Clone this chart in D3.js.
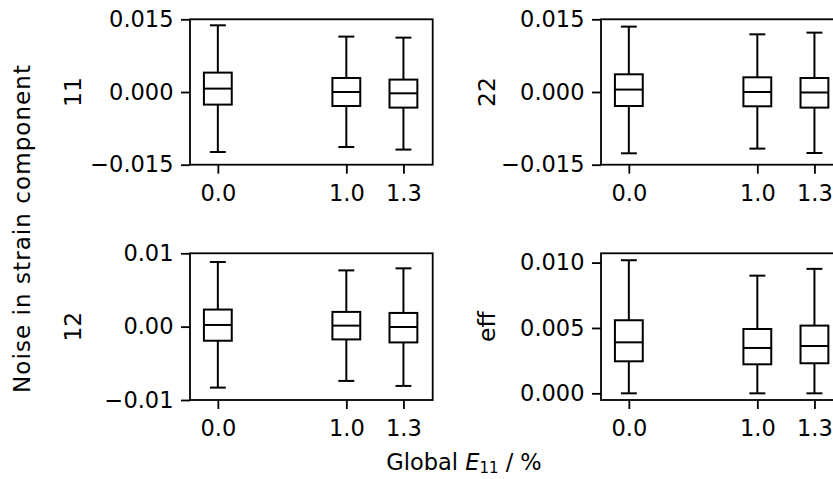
<!DOCTYPE html>
<html>
<head>
<meta charset="utf-8">
<script src="https://cdn.jsdelivr.net/npm/d3@7"></script>
<style>
  body{margin:0;background:#fff;}
  svg{display:block;font-family:"DejaVu Sans",sans-serif;}
</style>
</head>
<body>
<div id="chart"></div>
<script>
// x positions of the three load steps and their tick labels
var positions = [0, 0.9, 1.3];
var tickLabels = ['0.0', '1.0', '1.3'];

// box stats per load step: [whisker low, q1, median, q3, whisker high]
var noise11 = [
    [-0.01238, -0.0026, 0.0007, 0.0040, 0.01376],
    [-0.01135, -0.00289, 0.0, 0.00289, 0.01143],
    [-0.01188, -0.00322, -0.00027, 0.00256, 0.01122]
];
var noise22 = [
    [-0.01265, -0.00289, 0.0005, 0.00365, 0.01349],
    [-0.01168, -0.00295, 0.0, 0.00303, 0.0119],
    [-0.01259, -0.00322, -0.0001, 0.00289, 0.01225]
];
var noise12 = [
    [-0.00831, -0.00192, 0.00023, 0.00233, 0.00881],
    [-0.0074, -0.00174, 0.00014, 0.00201, 0.00767],
    [-0.00808, -0.00215, -0.00005, 0.00187, 0.00795]
];
var noiseEff = [
    [0, 0.00245, 0.0039, 0.00559, 0.01018],
    [0, 0.00222, 0.00347, 0.00492, 0.0090],
    [0, 0.0023, 0.00362, 0.00518, 0.00952]
];

// y ticks per panel
var ticks11 = [-0.015, 0, 0.015];
var ticks22 = [-0.015, 0, 0.015];
var ticks12 = [-0.01, 0, 0.01];
var ticksEff = [0, 0.005, 0.01];

var width = 833, height = 479;
var fontsize = 22.5;
var panelW = 242.7;

var panels = [
    {name:'11', data:noise11, ticks:ticks11, fmt:'.3f', ydom:[-0.015, 0.015], x:190, y:19.3, h:145.4},
    {name:'22', data:noise22, ticks:ticks22, fmt:'.3f', ydom:[-0.015, 0.015], x:601, y:19.3, h:145.4},
    {name:'12', data:noise12, ticks:ticks12, fmt:'.2f', ydom:[-0.01, 0.01], x:190, y:253.3, h:146.7},
    {name:'eff', data:noiseEff, ticks:ticksEff, fmt:'.3f', ydom:[-0.00051, 0.01071], x:601, y:253.3, h:146.7}
];

var svg = d3.select('#chart').append('svg')
    .attr('width', width)
    .attr('height', height);

var boxW = 0.195, capW = 0.0975;

panels.forEach(function(p){
    var x = d3.scaleLinear().domain([-0.195, 1.505]).range([0, panelW]);
    var y = d3.scaleLinear().domain(p.ydom).range([p.h, 0]);
    var g = svg.append('g').attr('transform', 'translate(' + p.x + ',' + p.y + ')');
    var fmt = d3.format(p.fmt);

    var yAxis = d3.axisLeft(y).tickValues(p.ticks).tickSize(9).tickPadding(7.5)
        .tickFormat(function(d){ return fmt(d).replace('-', '\u2212'); });
    var ya = g.append('g').call(yAxis);
    var xAxis = d3.axisBottom(x).tickValues(positions).tickSize(9).tickPadding(6)
        .tickFormat(function(d, i){ return tickLabels[i]; });
    var xa = g.append('g').attr('transform', 'translate(0,' + p.h + ')').call(xAxis);

    [ya, xa].forEach(function(a){
        a.select('.domain').remove();
        a.selectAll('line').attr('stroke', '#000').attr('stroke-width', 1.8);
        a.selectAll('text').attr('fill', '#000')
            .attr('font-family', '"DejaVu Sans",sans-serif')
            .attr('font-size', fontsize + 'px');
    });
    xa.selectAll('text').attr('dy', '0.95em');

    g.append('rect')
        .attr('x', 0).attr('y', 0)
        .attr('width', panelW).attr('height', p.h)
        .attr('fill', 'none')
        .attr('stroke', '#000')
        .attr('stroke-width', 1.8);

    var boxes = g.append('g').selectAll('g')
        .data(p.data)
        .enter().append('g')
        .attr('stroke', '#000')
        .attr('stroke-width', 2)
        .attr('fill', 'none');

    // whiskers
    boxes.append('line')
        .attr('x1', function(d, i){ return x(positions[i]); })
        .attr('x2', function(d, i){ return x(positions[i]); })
        .attr('y1', function(d){ return y(d[0]); })
        .attr('y2', function(d){ return y(d[1]); });
    boxes.append('line')
        .attr('x1', function(d, i){ return x(positions[i]); })
        .attr('x2', function(d, i){ return x(positions[i]); })
        .attr('y1', function(d){ return y(d[3]); })
        .attr('y2', function(d){ return y(d[4]); });
    // caps
    [0, 4].forEach(function(k){
        boxes.append('line')
            .attr('stroke-linecap', 'square')
            .attr('x1', function(d, i){ return x(positions[i] - capW / 2); })
            .attr('x2', function(d, i){ return x(positions[i] + capW / 2); })
            .attr('y1', function(d){ return y(d[k]); })
            .attr('y2', function(d){ return y(d[k]); });
    });
    // box
    boxes.append('rect')
        .attr('x', function(d, i){ return x(positions[i] - boxW / 2); })
        .attr('width', x(boxW) - x(0))
        .attr('y', function(d){ return y(d[3]); })
        .attr('height', function(d){ return y(d[1]) - y(d[3]); });
    // median
    boxes.append('line')
        .attr('x1', function(d, i){ return x(positions[i] - boxW / 2); })
        .attr('x2', function(d, i){ return x(positions[i] + boxW / 2); })
        .attr('y1', function(d){ return y(d[2]); })
        .attr('y2', function(d){ return y(d[2]); });

    // panel label
    var lx = p.x < 400 ? 81 : 495;
    svg.append('text')
        .text(p.name)
        .attr('transform', 'translate(' + lx + ',' + (p.y + p.h / 2) + ') rotate(-90)')
        .attr('text-anchor', 'middle')
        .attr('font-size', (fontsize + 1) + 'px');
});

svg.append('text')
    .text('Noise in strain component')
    .attr('transform', 'translate(30,229) rotate(-90)')
    .attr('text-anchor', 'middle')
    .attr('font-size', '23px')
    .attr('textLength', 328)
    .attr('lengthAdjust', 'spacing');

var xl = svg.append('text')
    .attr('x', 464)
    .attr('y', 470)
    .attr('text-anchor', 'middle')
    .attr('font-size', '22.5px');
xl.append('tspan').text('Global ');
xl.append('tspan').text('E').attr('font-style', 'italic');
xl.append('tspan').text('11').attr('font-size', '15px').attr('dy', 3);
xl.append('tspan').text(' / %').attr('dy', -3);
</script>
</body>
</html>
